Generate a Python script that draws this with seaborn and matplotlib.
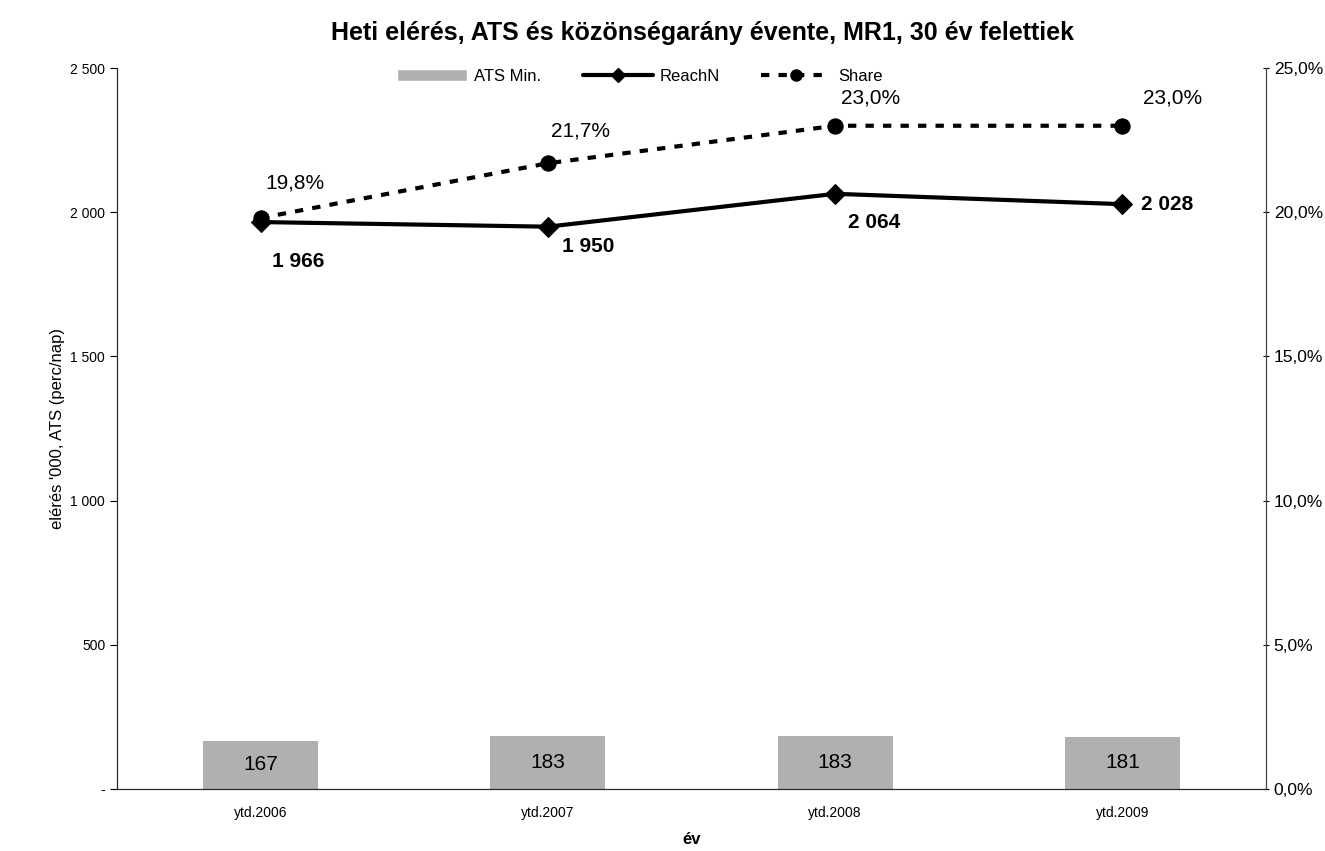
import numpy as np
import pandas as pd
import matplotlib
matplotlib.use("Agg")
import matplotlib.pyplot as plt
from matplotlib.ticker import FuncFormatter
from matplotlib.patches import Patch
from matplotlib.lines import Line2D
import seaborn as sns

# adatok
years = ["ytd.2006", "ytd.2007", "ytd.2008", "ytd.2009"]
ats_min = [167, 183, 183, 181]
reach_n = [1966, 1950, 2064, 2028]
share = [19.8, 21.7, 23.0, 23.0]

# címke eltolások (pixel) az Excel-szerű elhelyezéshez
reach_off = [(38, -39), (40, -20), (39, -29), (45, 0)]
share_off = [(34, 35), (33, 32), (35, 28), (50, 28)]

sns.set_style("white")
plt.rcParams["font.family"] = ["Liberation Sans", "DejaVu Sans"]
plt.rcParams["text.color"] = "black"
plt.rcParams["xtick.color"] = "black"
plt.rcParams["ytick.color"] = "black"
plt.rcParams["axes.labelcolor"] = "black"

df = pd.DataFrame({"ev": years, "ats": ats_min, "reach": reach_n, "share": share})
df["pos"] = np.arange(len(df))

fig = plt.figure(figsize=(13.25, 8.51), dpi=100)
ax = fig.add_axes([0.0883, 0.0729, 0.8672, 0.8471])

sns.barplot(data=df, x="ev", y="ats", color="#b0b0b0", saturation=1,
            width=0.4, ax=ax, edgecolor="none")
sns.lineplot(data=df, x="pos", y="reach", color="black", linewidth=3,
             marker="D", markersize=10, markeredgecolor="black", ax=ax)
ax.set_xlim(-0.5, 3.5)
ax.set_ylim(0, 2500)
ax.set_yticks(np.arange(0, 2501, 500))
ax.yaxis.set_major_formatter(FuncFormatter(
    lambda v, p: "-" if v == 0 else f"{int(v):,}".replace(",", " ")))
ax.tick_params(axis="y", labelsize=10, length=5, direction="out", left=True)
ax.tick_params(axis="x", labelsize=10, length=0, pad=12)
ax.set_xticks(range(len(years)))
ax.set_xticklabels(years)
ax.set_xlabel("év", fontsize=12, fontweight="bold", labelpad=9)
ax.set_ylabel("elérés '000, ATS (perc/nap)", fontsize=12)
ax.spines["top"].set_visible(False)
for s in ["left", "bottom"]:
    ax.spines[s].set_color("#444444")

# bar címkék
for i, v in enumerate(ats_min):
    ax.text(i, v / 2, str(v), ha="center", va="center", fontsize=15)

# reach címkék
for i, v in enumerate(reach_n):
    dx, dy = reach_off[i]
    ax.annotate(f"{v:,}".replace(",", " "), (i, v), xytext=(dx, dy),
                textcoords="offset pixels", ha="center", va="center",
                fontsize=15, fontweight="bold")

ax2 = ax.twinx()
sns.lineplot(data=df, x="pos", y="share", color="black", linewidth=3,
             linestyle=(0, (2, 2.2)), marker="o", markersize=11,
             markeredgecolor="black", ax=ax2)
ax2.set_ylim(0, 25)
ax2.set_yticks(np.arange(0, 26, 5))
ax2.yaxis.set_major_formatter(FuncFormatter(lambda v, p: f"{v:.1f}%".replace(".", ",")))
ax2.tick_params(axis="y", labelsize=12.5, length=5, direction="inout", right=True, pad=3)
ax2.set_ylabel("")
ax2.spines["top"].set_visible(False)
ax2.spines["right"].set_color("#444444")
ax2.set_xlim(-0.5, 3.5)

for i, v in enumerate(share):
    dx, dy = share_off[i]
    ax2.annotate(f"{v:.1f}%".replace(".", ","), (i, v), xytext=(dx, dy),
                 textcoords="offset pixels", ha="center", va="center",
                 fontsize=15)

# jelmagyarázat
handles = [
    Patch(facecolor="#b0b0b0", label="ATS Min."),
    Line2D([], [], color="black", linewidth=3, marker="D", markersize=7, label="ReachN"),
    Line2D([], [], color="black", linewidth=3, linestyle=(0, (2, 2.2)), marker="o",
           markersize=8, label="Share"),
]
ax.legend(handles=handles, loc="upper center", bbox_to_anchor=(0.455, 1.02),
          ncol=3, frameon=False, fontsize=12, handlelength=4.2,
          columnspacing=2.5, handletextpad=0.4)

fig.suptitle("Heti elérés, ATS és közönségarány évente, MR1, 30 év felettiek",
             fontsize=18, fontweight="bold", y=0.975, x=0.53)

fig.savefig("out.png", dpi=100)
plt.close(fig)
